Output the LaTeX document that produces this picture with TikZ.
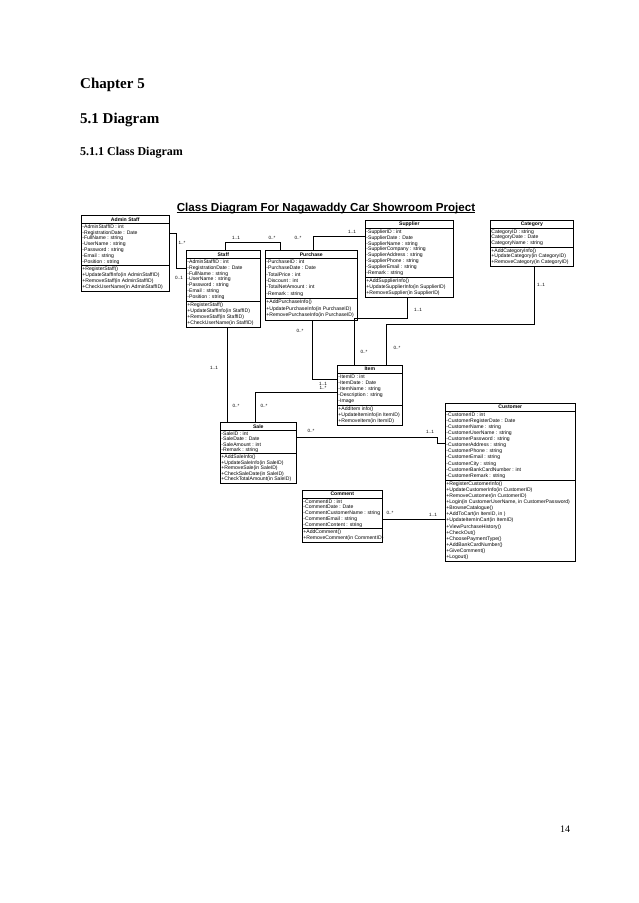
\documentclass[tikz,border=0pt]{standalone}
\usepackage{fontspec}
\setmainfont{Liberation Serif}
\newfontfamily\arialf{Liberation Sans}
\usetikzlibrary{calc}
\tikzset{
  classbox/.style={draw=black, line width=0.6pt, inner sep=0pt, fill=white},
  classline/.style={draw=black, line width=0.6pt},
  classtitle/.style={font=\arialf\bfseries\fontsize{5.1}{6}\selectfont, inner sep=0pt},
  classtext/.style={inner sep=0pt, align=left, anchor=north west},
  conn/.style={draw=black, line width=0.7pt},
  mult/.style={font=\arialf\fontsize{4.6}{5}\selectfont, inner sep=0pt},
  heading/.style={font=\bfseries, anchor=base west, inner sep=0pt},
}
\newcommand{\umlclass}[9]{%
  \pgfmathsetmacro{\umlha}{#4*#6+2}%
  \pgfmathsetmacro{\umlhm}{#5*#6+2}%
  \pgfmathsetmacro{\umlht}{8+\umlha+\umlhm}%
  \node[classbox, minimum width=#3pt, minimum height=\umlht pt, anchor=north west] (#1) at (#2) {};
  \node[classtitle] (#1-title) at ($(#1.north)+(0,4.2)$) {#7};
  \draw[classline] ($(#1.north west)+(0,8)$) -- ($(#1.north east)+(0,8)$);
  \node[classtext, font=\arialf\fontsize{5.1}{#6}\selectfont] (#1-attr) at ($(#1.north west)+(1.2,9.3)$) {#8};
  \draw[classline] ($(#1.north west)+(0,8+\umlha)$) -- ($(#1.north east)+(0,8+\umlha)$);
  \node[classtext, font=\arialf\fontsize{5.1}{#6}\selectfont] (#1-meth) at ($(#1.north west)+(1.2,9.3+\umlha)$) {#9};
}
\begin{document}
\begin{tikzpicture}[x=1pt,y=-1pt]
\fill[white] (0,0) rectangle (638,903);
\path[use as bounding box] (0,0) rectangle (638,903);

% headings
\node[heading, font=\bfseries\fontsize{15}{18}\selectfont] (chap) at (80,88) {Chapter 5};
\node[heading, font=\bfseries\fontsize{15}{18}\selectfont] (sec) at (80,123) {5.1 Diagram};
\node[heading, font=\bfseries\fontsize{12}{14}\selectfont] (subsec) at (80,155) {5.1.1 Class Diagram};
\node[font=\fontsize{10}{12}\selectfont, anchor=base, inner sep=0pt] (pageno) at (565,832) {14};

% diagram title
\node[font=\arialf\bfseries\fontsize{11.6}{14}\selectfont, anchor=base, inner sep=0pt] (diagtitle) at (326,211) {Class Diagram For Nagawaddy Car Showroom Project};
\draw[line width=0.9pt] ($(diagtitle.base west)+(0,1.7)$) -- ($(diagtitle.base east)+(0,1.7)$);

% classes
\umlclass{adminstaff}{81,215}{88}{7}{4}{5.8}{Admin Staff}
{-AdminStaffID : int\\-RegistrationDate : Date\\-FullName : string\\-UserName : string\\-Password : string\\-Email : string\\-Position : string}
{+RegisterStaff()\\+UpdateStaffInfo(in AdminStaffID)\\+RemoveStaff(in AdminStaffID)\\+CheckUserName(in AdminStaffID)}

\umlclass{staff}{186,250}{74}{7}{4}{5.9}{Staff}
{-AdminStaffID : int\\-RegistrationDate : Date\\-FullName : string\\-UserName : string\\-Password : string\\-Email : string\\-Position : string}
{+RegisterStaff()\\+UpdateStaffInfo(in StaffID)\\+RemoveStaff(in StaffID)\\+CheckUserName(in StaffID)}

\umlclass{purchase}{265,250}{92}{6}{3}{6.4}{Purchase}
{-PurchaseID : int\\-PurchaseDate : Date\\-TotalPrice : int\\-Discount : int\\-TotalNetAmount : int\\-Remark : string}
{+AddPurchaseInfo()\\+UpdatePurchaseInfo(in PurchaseID)\\+RemovePurchaseInfo(in PurchaseID)}

\umlclass{supplier}{365,220}{88}{8}{3}{5.9}{Supplier}
{-SupplierID : int\\-SupplierDate : Date\\-SupplierName : string\\-SupplierCompany : string\\-SupplierAddress : string\\-SupplierPhone : string\\-SupplierEmail : string\\-Remark : string}
{+AddSupplierInfo()\\+UpdateSupplierInfo(in SupplierID)\\+RemoveSupplier(in SupplierID)}

\umlclass{category}{490,220}{83}{3}{3}{5.6}{Category}
{CategoryID : string\\CategoryDate : Date\\CategoryName : string}
{+AddCategoryInfo()\\+UpdateCategory(in CategoryID)\\+RemoveCategory(in CategoryID)}

\umlclass{item}{337,365}{65}{5}{3}{6}{Item}
{-ItemID : int\\-ItemDate : Date\\-ItemName : string\\-Description : string\\-Image}
{+AddItem info()\\+UpdateIteminfo(in ItemID)\\+RemoveItem(in ItemID)}

\umlclass{sale}{220,422}{76}{4}{5}{5.4}{Sale}
{-SaleID : int\\-SaleDate : Date\\-SaleAmount : int\\-Remark : string}
{+AddSaleInfo()\\+UpdateSaleInfo(in SaleID)\\+RemoveSale(in SaleID)\\+CheckSaleDate(in SaleID)\\+CheckTotalAmount(in SaleID)}

\umlclass{customer}{445,403}{130}{11}{13}{6.1}{Customer}
{-CustomerID : int\\-CustomerRegisterDate : Date\\-CustomerName : string\\-CustomerUserName : string\\-CustomerPassword : string\\-CustomerAddress : string\\-CustomerPhone : string\\-CustomerEmail : string\\-CustomerCity : string\\-CustomerBankCardNumber : int\\-CustomerRemark : string}
{+RegisterCustomerInfo()\\+UpdateCustomerInfo(in CustomerID)\\+RemoveCustomer(in CustomerID)\\+Login(in CustomerUserName, in CustomerPassword)\\+BrowseCatalogue()\\+AddToCart(in ItemID, in )\\+UpdateItemInCart(in ItemID)\\+ViewPurchaseHistory()\\+CheckOut()\\+ChoosePaymentType()\\+AddBankCardNumber()\\+GiveComment()\\+Logout()}

\umlclass{comment}{302,490}{80}{5}{2}{5.7}{Comment}
{-CommentID : int\\-CommentDate : Date\\-CommentCustomerName : string\\-CommentEmail : string\\-CommentContent : string}
{+AddComment()\\+RemoveComment(in CommentID)}

% connectors
\draw[conn] (adminstaff.east |- 0,233) -- (176,233) -- (176,268) -- (staff.west |- 0,268);
\draw[conn] (staff.north -| 225,0) -- (225,242) -- (280,242) -- (purchase.north -| 280,0);
\draw[conn] (purchase.north -| 313,0) -- (313,236) -- (supplier.west |- 0,236);
\draw[conn] (purchase.south -| 312,0) -- (312,379) -- (item.west |- 0,379);
\draw[conn] (supplier.south -| 407,0) -- (407,318) -- (354,318) -- (item.north -| 354,0);
\draw[conn] (category.south -| 534,0) -- (534,324) -- (386,324) -- (item.north -| 386,0);
\draw[conn] (staff.south -| 227,0) -- (sale.north -| 227,0);
\draw[conn] (sale.north -| 255,0) -- (255,392) -- (item.west |- 0,392);
\draw[conn] (sale.east |- 0,437) -- (437,437) -- (437,443) -- (customer.west |- 0,443);
\draw[conn] (comment.east |- 0,519) -- (customer.west |- 0,519);

% multiplicities
\node[mult] (m1) at (182,243) {1..*};
\node[mult] (m2) at (179,278) {0..1};
\node[mult] (m3) at (236,238) {1..1};
\node[mult] (m4) at (272,238) {0..*};
\node[mult] (m5) at (298,238) {0..*};
\node[mult] (m6) at (352,232) {1..1};
\node[mult] (m7) at (300,331) {0..*};
\node[mult] (m8) at (323,383.5) {1..1};
\node[mult] (m9) at (323,388) {1..*};
\node[mult] (m10) at (418,310) {1..1};
\node[mult] (m11) at (364,352) {0..*};
\node[mult] (m12) at (541,285) {1..1};
\node[mult] (m13) at (397,348) {0..*};
\node[mult] (m14) at (214,368) {1..1};
\node[mult] (m15) at (236,406) {0..*};
\node[mult] (m16) at (264,406) {0..*};
\node[mult] (m17) at (311,431) {0..*};
\node[mult] (m18) at (430,432) {1..1};
\node[mult] (m19) at (390,513) {0..*};
\node[mult] (m20) at (433,515) {1..1};
\end{tikzpicture}
\end{document}
